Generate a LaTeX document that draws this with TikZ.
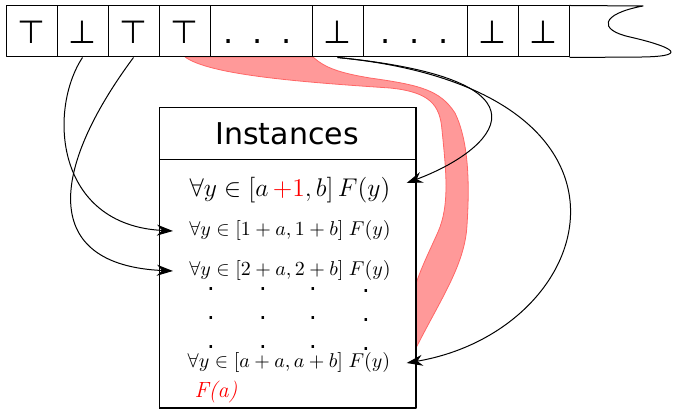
\RequirePackage{fix-cm}
\documentclass[tikz,border=0pt]{standalone}
\usepackage{fontspec}
\newfontfamily\dejavu{DejaVu Sans}
\usetikzlibrary{arrows.meta,calc}
\begin{document}
\begin{tikzpicture}[x=0.5pt,y=-0.5pt,line join=round,
  >={Stealth[length=8pt,width=5.5pt,inset=2.6pt]},
  cell/.style={draw,line width=0.5pt,minimum height=25.5pt,inner sep=0pt,
    text height=12.5pt,text depth=0pt,font=\dejavu\fontsize{16}{16}\selectfont},
  rowf/.style={inner xsep=8pt,inner ysep=0pt},
  dotc/.style={anchor=base,inner sep=0pt,font=\dejavu\fontsize{12}{12}\selectfont},
  conn/.style={->,line width=0.5pt},
  band/.style={fill=red!40,draw=red!60,line width=0.4pt}]
\useasboundingbox (0,0) rectangle (675,410);

% red band
\path[band] (185,57) .. controls (210,75) and (300,82) .. (390,88)
  .. controls (430,92) and (440,105) .. (442,130)
  .. controls (446,170) and (450,205) .. (438,232)
  .. controls (430,250) and (420,270) .. (415,287)
  -- (415,350) .. controls (440,300) and (465,265) .. (467,225)
  .. controls (470,180) and (468,140) .. (455,113)
  .. controls (440,90) and (420,85) .. (370,78)
  .. controls (340,73) and (325,68) .. (313,57) -- cycle;

% tape
\node[cell,minimum width=25.5pt] (c1) at (31.5,31.5) {⊤};
\node[cell,minimum width=25.5pt] (c2) at (82.5,31.5) {⊥};
\node[cell,minimum width=25.5pt] (c3) at (133.5,31.5) {⊤};
\node[cell,minimum width=25.5pt] (c4) at (184.5,31.5) {⊤};
\node[cell,minimum width=51pt] (c5) at (261,31.5) {.\kern9.4pt.\kern9.4pt.\kern3pt};
\node[cell,minimum width=25.5pt] (c6) at (337.5,31.5) {⊥};
\node[cell,minimum width=52pt] (c7) at (415,31.5) {.\kern9.4pt.\kern9.4pt.};
\node[cell,minimum width=25.5pt] (c8) at (492.5,31.5) {⊥};
\node[cell,minimum width=25.5pt] (c9) at (543.5,31.5) {⊥};
\draw[line width=0.5pt] (c9.north east) -- (643,6)
  .. controls (600,14) and (598,30) .. (630,37)
  .. controls (665,45) and (695,56) .. (643,57) -- (c9.south east);

% box
\node[draw,fill=white,line width=0.5pt,minimum width=128pt,minimum height=26pt,inner sep=0pt,
  font=\dejavu\fontsize{15}{18}\selectfont] (title) at (287,134) {Instances};
\node[draw,fill=white,line width=0.5pt,minimum width=128pt,minimum height=124pt,inner sep=0pt] (body) at (287,284) {};
\draw[line width=1pt] (title.north east) -- (body.south east) -- (body.south west);

\node[rowf,font=\fontsize{12.8}{15}\selectfont] (r1) at (290,190) {$\forall y\in[a\mskip3mu\textcolor{red}{+1},b]\,F(y)$};
\node[rowf,font=\fontsize{10}{12}\selectfont] (r2) at (290,231) {$\forall y\in[1+a,1+b]\;F(y)$};
\node[rowf,font=\fontsize{10}{12}\selectfont] (r3) at (290,271) {$\forall y\in[2+a,2+b]\;F(y)$};
\node[rowf,font=\fontsize{10}{12}\selectfont] (r4) at (289,363) {$\forall y\in[a+a,a+b]\;F(y)$};
\foreach \x [count=\i] in {211,263,313} {
  \foreach \y [count=\j] in {289,318,347} {
    \node[dotc] (d\i\j) at (\x,\y+2) {.};
  }
}
\foreach \y [count=\j] in {291,320,349} {
  \node[dotc] (d4\j) at (366,\y+2) {.};
}
\node[inner sep=0pt,text=red,font=\fontsize{11}{13}\selectfont\itshape] (fa) at (216,392) {F(a)};

% connectors
\draw[conn] (c2.south) .. controls (48,110) and (55,225) .. (r2.west);
\draw[conn] (c3.south) .. controls (50,170) and (40,265) .. (r3.west);
\draw[conn] (c6.south) .. controls (565,80) and (495,150) .. ([yshift=3.5pt]r1.east);
\draw[conn] (c6.south) .. controls (670,90) and (600,330) .. (r4.east);
\end{tikzpicture}
\end{document}
